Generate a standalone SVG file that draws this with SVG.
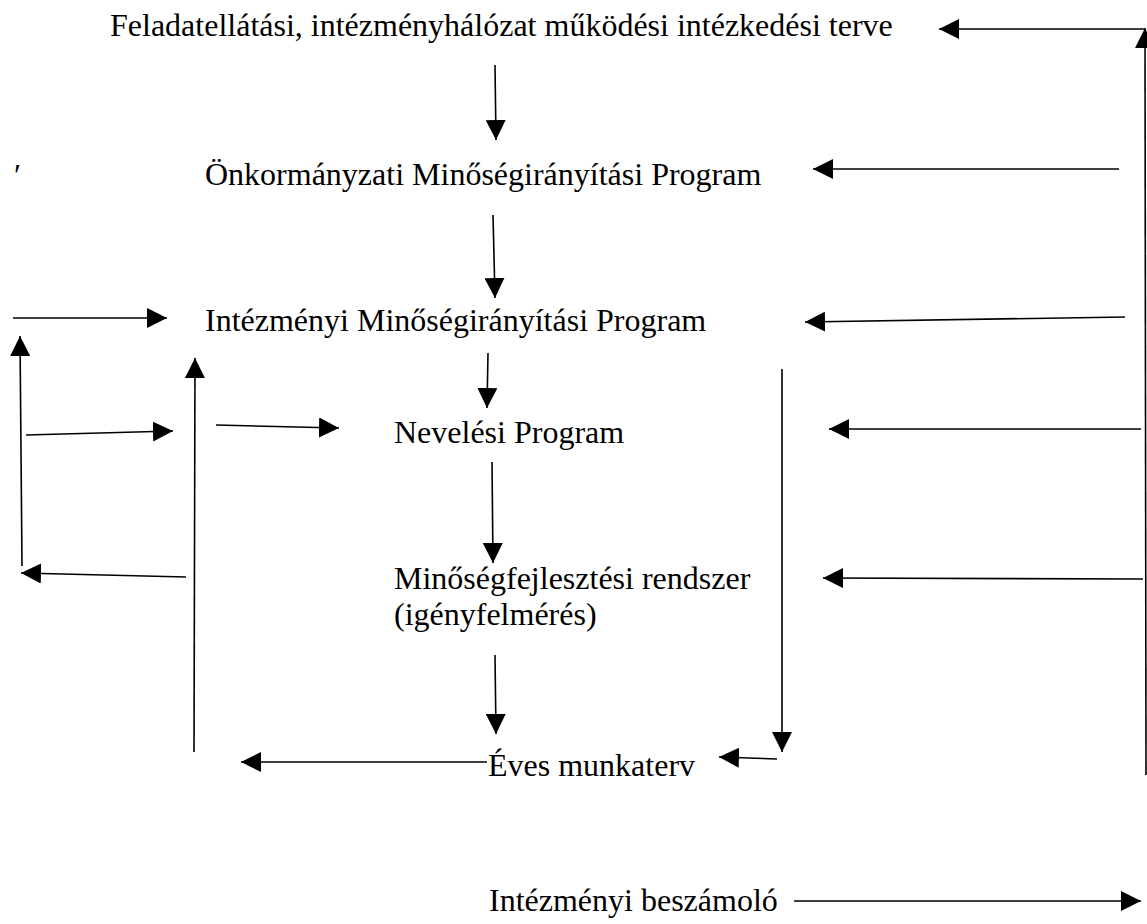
<svg xmlns="http://www.w3.org/2000/svg" width="1147" height="924" viewBox="0 0 1147 924">
<style>
text{font-family:"Liberation Serif","Times New Roman",serif;font-size:32px;fill:#000}
.c line{stroke:#000;stroke-width:1.6;fill:none}
.a{marker-end:url(#ah)}
</style>
<defs>
<marker id="ah" markerUnits="userSpaceOnUse" markerWidth="20" markerHeight="20" viewBox="0 0 20 20" refX="20" refY="10" orient="auto">
<path d="M0,0 L20,10 L0,20 Z" fill="#000"/>
</marker>
</defs>
<rect width="1147" height="924" fill="#fff"/>
<g id="n-feladat"><text x="110" y="36">Feladatellátási, intézményhálózat működési intézkedési terve</text></g>
<g id="n-stray"><text x="14" y="186">′</text></g>
<g id="n-onkorm"><text x="205" y="185">Önkormányzati Minőségirányítási Program</text></g>
<g id="n-intezm"><text x="205" y="331">Intézményi Minőségirányítási Program</text></g>
<g id="n-neveles"><text x="394" y="443">Nevelési Program</text></g>
<g id="n-minoseg"><text x="394" y="589">Minőségfejlesztési rendszer</text><text x="394" y="625">(igényfelmérés)</text></g>
<g id="n-eves"><text x="488" y="776">Éves munkaterv</text></g>
<g id="n-beszamolo"><text x="489" y="911">Intézményi beszámoló</text></g>
<g id="connectors" class="c">
<line class="a" x1="495" y1="65" x2="496" y2="140"/>
<line class="a" x1="493" y1="215" x2="495" y2="298"/>
<line class="a" x1="488" y1="353" x2="487" y2="408"/>
<line class="a" x1="492" y1="462" x2="493" y2="563"/>
<line class="a" x1="495" y1="655" x2="496" y2="734"/>
<line class="a" x1="1145" y1="29" x2="939" y2="29"/>
<line class="a" x1="1146" y1="775" x2="1145" y2="28"/>
<line class="a" x1="1119" y1="169" x2="813" y2="169"/>
<line class="a" x1="1125" y1="317" x2="805" y2="322"/>
<line class="a" x1="1141" y1="429" x2="829" y2="429"/>
<line class="a" x1="1143" y1="579" x2="823" y2="578"/>
<line class="a" x1="782" y1="369" x2="782" y2="752"/>
<line class="a" x1="777" y1="759" x2="719" y2="757"/>
<line class="a" x1="487" y1="762" x2="241" y2="762"/>
<line class="a" x1="794" y1="901" x2="1141" y2="901"/>
<line class="a" x1="13" y1="318" x2="167" y2="318"/>
<line class="a" x1="22" y1="566" x2="20" y2="336"/>
<line class="a" x1="26" y1="435" x2="173" y2="431"/>
<line class="a" x1="216" y1="425" x2="339" y2="428"/>
<line class="a" x1="194" y1="752" x2="195" y2="358"/>
<line class="a" x1="186" y1="577" x2="21" y2="573"/>
</g>
</svg>
